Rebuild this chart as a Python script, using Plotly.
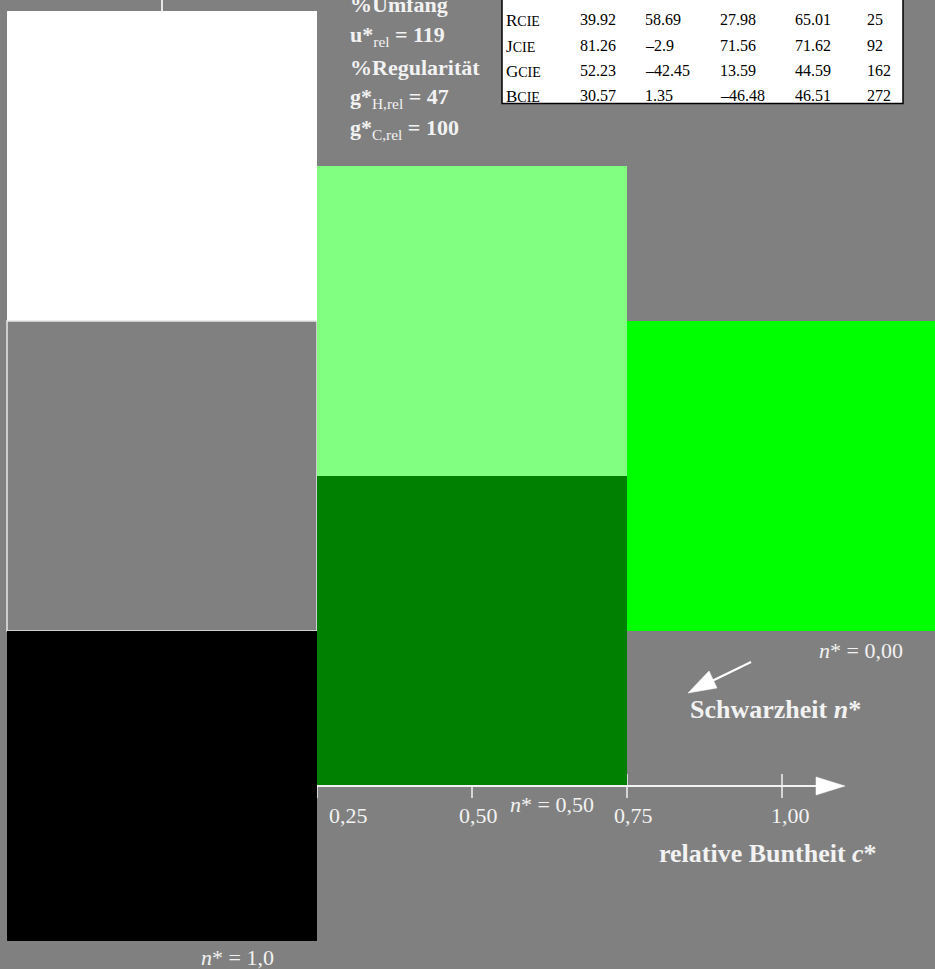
import plotly.graph_objects as go

# ---------------- data ----------------
cell_c = [0.0, 0.0, 0.0, 0.5, 0.5, 1.0]          # relative Buntheit c* (centre)
cell_l = [1.0, 0.5, 0.0, 0.75, 0.25, 0.5]         # relative lightness (centre)
cell_colors = ["#ffffff", "#808080", "#000000", "#80ff80", "#008000", "#00ff00"]
cell_border = ["rgba(0,0,0,0)", "#e6e6e6", "rgba(0,0,0,0)", "rgba(0,0,0,0)", "rgba(0,0,0,0)", "rgba(0,0,0,0)"]
cell_size = 0.5

tick_values = [0.25, 0.5, 0.75, 1.0]
tick_labels = ["0,25", "0,50", "0,75", "1,00"]

table_rows = ["R", "J", "G", "B"]
table_L = [39.92, 81.26, 52.23, 30.57]
table_a = [58.69, -2.9, -42.45, 1.35]
table_b = [27.98, 71.56, 13.59, -46.48]
table_C = [65.01, 71.62, 44.59, 46.51]
table_h = [25, 92, 162, 272]

u_rel = 119
g_h_rel = 47
g_c_rel = 100

# ---------------- layout helpers ----------------
W, H = 935, 969
S = 620.0          # pixels per unit
X0, Y0 = 162.0, 786.0


def X(px):
    return (px - X0) / S


def Y(py):
    return (Y0 - py) / S


BG = "#808080"
TXT = "#f2f2f2"
SERIF = "Liberation Serif, Times New Roman, serif"

fig = go.Figure()

fig.add_trace(go.Bar(
    x=cell_c,
    y=[cell_size] * len(cell_c),
    base=[v - cell_size / 2 for v in cell_l],
    width=[cell_size] * len(cell_c),
    marker=dict(color=cell_colors, line=dict(color=cell_border, width=1.5)),
    hoverinfo="skip",
    showlegend=False,
))

shapes = []
# c* = 0 vertical axis (mostly hidden behind cells)
shapes.append(dict(type="line", xref="x", yref="y", x0=0, x1=0, y0=0.5, y1=Y(-10),
                   line=dict(color="#e6e6e6", width=2), layer="below"))
# ticks
for t in tick_values:
    shapes.append(dict(type="line", xref="x", yref="y", x0=t, x1=t, y0=Y(774), y1=Y(798),
                       line=dict(color="#f2f2f2", width=1.5), layer="below"))
# horizontal axis line + arrowhead
shapes.append(dict(type="line", xref="x", yref="y", x0=0.25, x1=X(818), y0=0, y1=0,
                   line=dict(color="#f2f2f2", width=2), layer="above"))
shapes.append(dict(type="path", xref="x", yref="y",
                   path=f"M {X(816)} {Y(777)} L {X(845)} {Y(786)} L {X(816)} {Y(795)} Z",
                   fillcolor="#ffffff", line=dict(color="#ffffff", width=0.5), layer="above"))
# Schwarzheit arrow
shapes.append(dict(type="line", xref="x", yref="y", x0=X(751), y0=Y(662), x1=X(712), y1=Y(681),
                   line=dict(color="#ffffff", width=2), layer="above"))
shapes.append(dict(type="path", xref="x", yref="y",
                   path=f"M {X(688)} {Y(693)} L {X(709)} {Y(671)} L {X(717)} {Y(688)} Z",
                   fillcolor="#ffffff", line=dict(color="#ffffff", width=0.5), layer="above"))
# table box
shapes.append(dict(type="rect", xref="x", yref="y", x0=X(502), x1=X(903), y0=Y(103.5), y1=Y(-5),
                   fillcolor="#ffffff", line=dict(color="#000000", width=1.5), layer="above"))

ann = []


def text(px, py, s, size, color=TXT, anchor="left", bold=False):
    ann.append(dict(x=X(px), y=Y(py), xref="x", yref="y", text=(f"<b>{s}</b>" if bold else s),
                    showarrow=False, xanchor=anchor, yanchor="middle",
                    font=dict(family=SERIF, size=size, color=color)))


# top-left text block
text(348, 4, "%Umfang", 22, bold=True)
text(348, 36, f"<b>u*</b><sub>rel</sub><b> = {u_rel}</b>", 22)
text(348, 67, "%Regularität", 22, bold=True)
text(348, 98, f"<b>g*</b><sub>H,rel</sub><b> = {g_h_rel}</b>", 22)
text(348, 129, f"<b>g*</b><sub>C,rel</sub><b> = {g_c_rel}</b>", 22)

# table
row_y = [19, 45, 70, 95]
col_x = [578, 643, 718, 793, 865]


def fmt(v):
    return f"{v}".replace("-", "–")


for i, r in enumerate(table_rows):
    text(504, row_y[i] + 1, f"{r}<span style=\"font-size:14px\">CIE</span>", 17, color="#000000")
    for j, v in enumerate([table_L[i], table_a[i], table_b[i], table_C[i], table_h[i]]):
        text(col_x[j], row_y[i], fmt(v), 16, color="#000000")

# tick labels
tick_offsets = [31, 6, 6, 8]
for t, lab, off in zip(tick_values, tick_labels, tick_offsets):
    ann.append(dict(x=t + off / S, y=Y(815), xref="x", yref="y", text=lab, showarrow=False,
                    xanchor="center", yanchor="middle",
                    font=dict(family=SERIF, size=22, color=TXT)))

# n* labels
text(905, 650, "<i>n</i>* = 0,00", 22, anchor="right")
text(552, 804, "<i>n</i>* = 0,50", 22, anchor="center")
text(237, 957, "<i>n</i>* = 1,0", 22, anchor="center")

# axis titles
text(775, 709, "Schwarzheit <i>n</i>*", 26, anchor="center", bold=True)
text(768, 853, "relative Buntheit <i>c</i>*", 26, anchor="center", bold=True)

fig.update_layout(
    width=W, height=H,
    margin=dict(l=0, r=0, t=0, b=0),
    paper_bgcolor=BG, plot_bgcolor=BG,
    barmode="overlay",
    shapes=shapes,
    annotations=ann,
    xaxis=dict(range=[X(0), X(W)], visible=False, fixedrange=True),
    yaxis=dict(range=[Y(H), Y(0)], visible=False, fixedrange=True),
    showlegend=False,
)

fig.write_html(
    "out.html",
    config={"displayModeBar": False},
    post_script="document.documentElement.style.margin='0';document.body.style.margin='0';"
                "document.body.style.padding='0';document.body.style.overflow='hidden';"
                "document.body.style.background='#808080';",
)
